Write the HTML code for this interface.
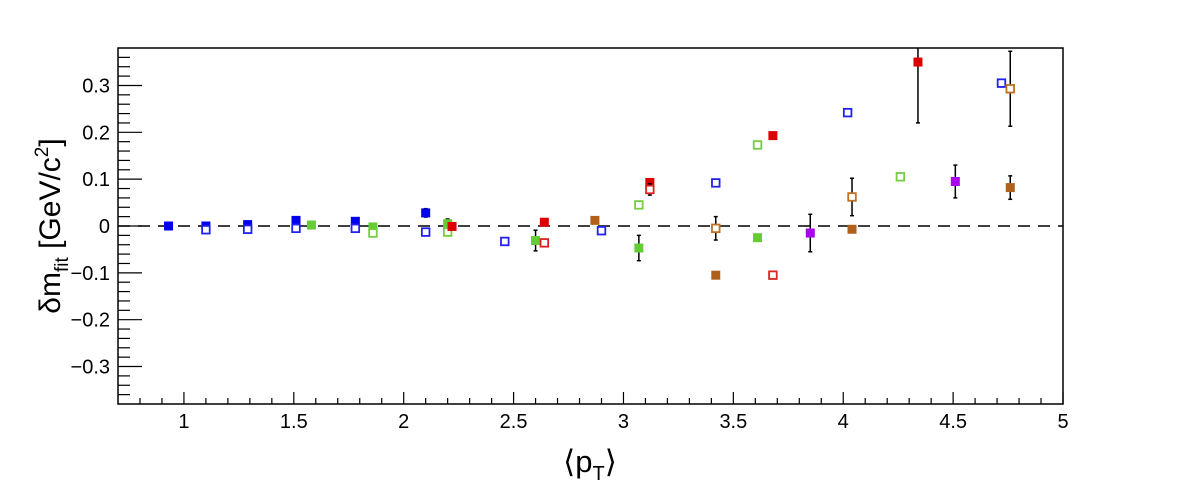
<!DOCTYPE html>
<html><head><meta charset="utf-8"><style>
body{margin:0;background:#fff;}
svg{display:block;font-family:"Liberation Sans",sans-serif;}
</style></head><body>
<svg id="c" width="1181" height="493">
<defs><clipPath id="pc"><rect x="118" y="48" width="945" height="356"/></clipPath></defs>
<rect x="118" y="48" width="945" height="356" fill="none" stroke="#000" stroke-width="1.5"/>
<g id="axes"></g>
<g id="marks" clip-path="url(#pc)"></g>
<text x="60" y="226" transform="rotate(-90 60 226)" text-anchor="middle" font-size="30">δm<tspan font-size="19" dy="8">fit</tspan><tspan dy="-8"> [GeV/c</tspan><tspan font-size="19" dy="-12">2</tspan><tspan dy="12">]</tspan></text>
<text x="590" y="472" text-anchor="middle" font-size="31">⟨p<tspan font-size="20" dy="8">T</tspan><tspan dy="-8">⟩</tspan></text>
</svg>
<script>
const seriesNames=["blue-filled","blue-open","green-filled","green-open","red-filled","red-open","brown-filled","brown-open","purple-filled"];
const seriesColors=["#0000ee","#2222ee","#66cc33","#77cc44","#dd0000","#dd2222","#b0601a","#c07020","#aa00ee"];
const seriesFilled=[1,0,1,0,1,0,1,0,1];
const xBlueF=[0.93,1.10,1.29,1.51,1.78,2.10];
const yBlueF=[0.0,0.0,0.003,0.012,0.01,0.028];
const eBlueF=[0,0,0.003,0.005,0.005,0.009];
const xBlueO=[1.10,1.29,1.51,1.78,2.10,2.46,2.90,3.42,4.02,4.72];
const yBlueO=[-0.008,-0.007,-0.005,-0.005,-0.013,-0.033,-0.01,0.092,0.242,0.305];
const eBlueO=[0,0,0,0,0,0,0,0,0,0.008];
const xGreenF=[1.58,1.86,2.20,2.60,3.07,3.61];
const yGreenF=[0.002,-0.002,0.005,-0.031,-0.047,-0.025];
const eGreenF=[0,0,0.01,0.022,0.027,0.005];
const xGreenO=[1.86,2.20,3.07,3.61,4.26];
const yGreenO=[-0.015,-0.013,0.045,0.173,0.105];
const eGreenO=[0,0,0,0.007,0];
const xRedF=[2.22,2.64,3.12,3.68,4.34];
const yRedF=[-0.001,0.008,0.093,0.193,0.35];
const eRedF=[0,0.003,0.004,0,0.13];
const xRedO=[2.64,3.12,3.68];
const yRedO=[-0.036,0.078,-0.105];
const eRedO=[0,0.012,0];
const xBrownF=[2.87,3.42,4.04,4.76];
const yBrownF=[0.012,-0.105,-0.007,0.082];
const eBrownF=[0.003,0,0,0.025];
const xBrownO=[3.42,4.04,4.76];
const yBrownO=[-0.005,0.062,0.293];
const eBrownO=[0.025,0.04,0.08];
const xPurpleF=[3.85,4.51];
const yPurpleF=[-0.015,0.095];
const ePurpleF=[0.04,0.035];
const xTickLabels=["1","1.5","2","2.5","3","3.5","4","4.5","5"];
const yTickLabels=["−0.3","−0.2","−0.1","0","0.1","0.2","0.3"];
const allX=[xBlueF,xBlueO,xGreenF,xGreenO,xRedF,xRedO,xBrownF,xBrownO,xPurpleF];
const allY=[yBlueF,yBlueO,yGreenF,yGreenO,yRedF,yRedO,yBrownF,yBrownO,yPurpleF];
const allE=[eBlueF,eBlueO,eGreenF,eGreenO,eRedF,eRedO,eBrownF,eBrownO,ePurpleF];

const X0=0.7,X1=5.0,Y0=-0.38,Y1=0.38,L=118,R=1063,T=48,B=404;
const sx=v=>L+(v-X0)/(X1-X0)*(R-L);
const sy=v=>B-(v-Y0)/(Y1-Y0)*(B-T);
const NS="http://www.w3.org/2000/svg";
function mk(tag,at,parent){const e=document.createElementNS(NS,tag);for(const k in at)e.setAttribute(k,at[k]);parent.appendChild(e);return e;}
const ax=document.getElementById('axes'),mg=document.getElementById('marks');
for(let i=8;i<=50;i++){const v=i/10;const x=sx(v);const major=i%5===0;
const t=mk('line',{x1:x,x2:x,y1:B,y2:B-(major?12:6),stroke:'#000','stroke-width':1.2},ax);

}
xTickLabels.forEach(s=>{const t=mk('text',{x:sx(parseFloat(s)),y:B+24,'text-anchor':'middle','font-size':20},ax);t.textContent=s;

});
for(let i=-18;i<=18;i++){const v=i/50;const y=sy(v);const major=i%5===0;
const t=mk('line',{x1:L,x2:L+(major?24:12),y1:y,y2:y,stroke:'#000','stroke-width':1.2},ax);

}
yTickLabels.forEach(s=>{const v=parseFloat(s.replace('−','-'));const t=mk('text',{x:L-8,y:sy(v)+7,'text-anchor':'end','font-size':20},ax);t.textContent=s;

});
const zl=mk('line',{x1:L,x2:R,y1:sy(0),y2:sy(0),stroke:'#000','stroke-width':1.5,'stroke-dasharray':'12,8'},ax);


allX.forEach((xs,si)=>{xs.forEach((xv,j)=>{const x=sx(xv),y=sy(allY[si][j]),e=allE[si][j];
if(e>0){const g=mk('g',{},mg);


mk('line',{x1:x,x2:x,y1:sy(allY[si][j]+e),y2:sy(allY[si][j]-e),stroke:'#000','stroke-width':1.5},g);
mk('line',{x1:x-2,x2:x+2,y1:sy(allY[si][j]+e),y2:sy(allY[si][j]+e),stroke:'#000','stroke-width':1.5},g);
mk('line',{x1:x-2,x2:x+2,y1:sy(allY[si][j]-e),y2:sy(allY[si][j]-e),stroke:'#000','stroke-width':1.5},g);}
const f=seriesFilled[si];
const r=f?mk('rect',{x:x-4.5,y:y-4.5,width:9,height:9,fill:seriesColors[si]},mg):mk('rect',{x:x-3.8,y:y-3.8,width:7.6,height:7.6,fill:'#fff',stroke:seriesColors[si],'stroke-width':1.8},mg);

});});
</script>
</body></html>
